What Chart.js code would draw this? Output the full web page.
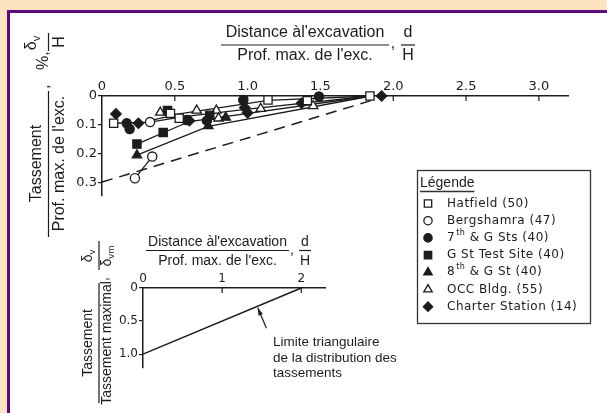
<!DOCTYPE html>
<html>
<head>
<meta charset="utf-8">
<title>Tassements derrière une excavation</title>
<script src="https://cdn.jsdelivr.net/npm/chart.js@4.4.1/dist/chart.umd.min.js"></script>
<style>
  html, body { margin: 0; padding: 0; }
  body {
    width: 607px;
    height: 413px;
    overflow: hidden;
    position: relative;
    background: #fde3bf;
  }
  #frame {
    position: absolute;
    left: 7px;
    top: 10px;
    width: 620px;
    height: 420px;
    background: #ffffff;
    border: 3px solid #5c0b7c;
  }
  .wrap {
    position: absolute;
    left: 0;
    top: 0;
    width: 607px;
    height: 413px;
  }
</style>
</head>
<body>
<div id="frame"></div>
<div class="wrap"><canvas id="chartObserved"></canvas></div>
<div class="wrap"><canvas id="chartEnvelope"></canvas></div>
<script>
// ---- data: [d/H, tassement %] ----
const hatfield = [[0.08, 0.094], [0.47, 0.06], [0.53, 0.077], [1.14, 0.014], [1.41, 0.016], [1.84, 0.0]];
const bergshamra = [[0.226, 0.284], [0.345, 0.209], [0.33, 0.09]];
const seventhG = [[0.17, 0.094], [0.19, 0.114], [0.58, 0.083], [0.72, 0.085], [0.97, 0.014], [1.49, 0.002]];
const gStTestSite = [[0.24, 0.166], [0.42, 0.126], [0.45, 0.05], [0.74, 0.066]];
const eighthG = [[0.24, 0.204], [0.73, 0.103], [0.85, 0.074]];
const occBldg = [[0.4, 0.057], [0.65, 0.05], [0.785, 0.05], [0.8, 0.077], [1.09, 0.044], [1.45, 0.034]];
const charterStation = [[0.096, 0.062], [0.25, 0.094], [0.6, 0.085], [0.98, 0.04], [1.0, 0.058], [1.37, 0.025], [1.92, 0.0]];

// trend lines drawn through the data
const trendBergshamra = [[0.226, 0.284], [0.345, 0.209]];
const trendEighth = [[0.24, 0.204], [0.73, 0.105], [1.85, 0.0]];
const trendGSt = [[0.24, 0.166], [0.6, 0.088], [1.85, 0.0]];
const trendMiddle = [[0.08, 0.094], [0.33, 0.09], [0.55, 0.072], [1.0, 0.045], [1.85, 0.0]];
const trendTop = [[0.33, 0.085], [0.53, 0.062], [1.14, 0.015], [1.85, 0.0]];
const envelopeDashed = [[0, 0.297], [1.88, 0.011]];

const siteLabels = ['Hatfield (50)', 'Bergshamra (47)', '7th & G Sts (40)', 'G St Test Site (40)',
  '8th & G St (40)', 'OCC Bldg. (55)', 'Charter Station (14)'];

const upperXTicks = [0, 0.5, 1.0, 1.5, 2.0, 2.5, 3.0];
const upperYTicks = [0, 0.1, 0.2, 0.3];

// lower chart: normalised settlement
const triangleLimit = [[0, 1.0], [2, 0]];
const arrowFrom = [1.56, 0.61];
const arrowTo = [1.45, 0.3];
const lowerXTicks = [0, 1, 2];
const lowerYTicks = [0, 0.5, 1.0];

const X_TITLE_NUM = 'Distance àl\'excavation';
const X_TITLE_DEN = 'Prof. max. de l\'exc.';
const NOTE_LINES = ['Limite triangulaire', 'de la distribution des', 'tassements'];

const INK = '#1c1c1c';
const SANS = "'Liberation Sans', Arial, sans-serif";
const LETTER = "'DejaVu Sans', sans-serif";

const toXY = (pairs) => pairs.map(([x, y]) => ({ x, y }));

function markerDataset(label, points, style, filled) {
  const radius = { rect: 5.8, circle: 4.6, triangle: 5.4, rectRot: 5.2 }[style];
  return {
    label,
    data: toXY(points),
    pointStyle: style,
    pointRadius: radius,
    pointBorderWidth: 1.3,
    pointBorderColor: INK,
    pointBackgroundColor: filled ? INK : '#ffffff',
    showLine: false,
    clip: false,
    order: 0
  };
}

function trendDataset(points, dashed) {
  return {
    label: '',
    trend: true,
    data: toXY(points),
    showLine: true,
    pointRadius: 0,
    borderColor: INK,
    borderWidth: dashed ? 1.5 : 1.3,
    borderDash: dashed ? [11, 7] : [],
    clip: false,
    order: 1
  };
}

function fmtTick(value) {
  return value === 0 ? '0' : value.toFixed(1);
}

function hline(ctx, x1, x2, y) {
  ctx.beginPath();
  ctx.moveTo(x1, y);
  ctx.lineTo(x2, y);
  ctx.stroke();
}

function vline(ctx, x, y1, y2) {
  ctx.beginPath();
  ctx.moveTo(x, y1);
  ctx.lineTo(x, y2);
  ctx.stroke();
}

// rotated (bottom to top) text
function rtext(ctx, text, x, y, align) {
  ctx.save();
  ctx.translate(x, y);
  ctx.rotate(-Math.PI / 2);
  ctx.textAlign = align || 'center';
  ctx.textBaseline = 'middle';
  ctx.fillText(text, 0, 0);
  ctx.restore();
}

// rotated symbol with subscript, e.g. δv
function rsub(ctx, base, sub, x, y, size) {
  ctx.save();
  ctx.translate(x, y);
  ctx.rotate(-Math.PI / 2);
  ctx.textAlign = 'left';
  ctx.textBaseline = 'middle';
  ctx.font = `${size}px ${SANS}`;
  const wb = ctx.measureText(base).width;
  ctx.font = `${size * 0.7}px ${SANS}`;
  const ws = ctx.measureText(sub).width;
  const start = -(wb + ws) / 2;
  ctx.font = `${size}px ${SANS}`;
  ctx.fillText(base, start, 0);
  ctx.font = `${size * 0.7}px ${SANS}`;
  ctx.fillText(sub, start + wb, size * 0.28);
  ctx.restore();
}

// x ticks pointing into the plot, below the top axis
const inwardTicks = {
  id: 'inwardTicks',
  afterDraw(chart) {
    const { ctx, chartArea } = chart;
    const scale = chart.scales.x;
    ctx.save();
    ctx.strokeStyle = INK;
    ctx.lineWidth = 1.2;
    scale.ticks.forEach((tick) => {
      if (tick.value === 0) return;
      const px = scale.getPixelForValue(tick.value);
      vline(ctx, px, chartArea.top, chartArea.top + 5);
    });
    ctx.restore();
  }
};

const upperDecor = {
  id: 'upperDecor',
  afterDraw(chart) {
    const ctx = chart.ctx;
    ctx.save();
    ctx.fillStyle = INK;
    ctx.strokeStyle = INK;
    ctx.lineWidth = 1.2;

    // x title: fraction , d/H
    ctx.font = `16px ${SANS}`;
    ctx.textAlign = 'center';
    ctx.textBaseline = 'middle';
    ctx.fillText(X_TITLE_NUM, 305, 33);
    ctx.fillText(X_TITLE_DEN, 305, 56);
    hline(ctx, 221, 389, 45);
    ctx.fillText(',', 393, 44);
    ctx.fillText('d', 408, 33);
    ctx.fillText('H', 408, 56);
    hline(ctx, 401, 415, 45);

    // y title, rotated
    rtext(ctx, 'Tassement', 37, 163.5);
    rtext(ctx, X_TITLE_DEN, 60, 163.5);
    vline(ctx, 48.5, 91, 237);
    rtext(ctx, ',', 45, 89, 'left');
    rtext(ctx, '%,', 44, 70, 'left');
    rsub(ctx, 'δ', 'v', 32, 43, 16);
    ctx.font = `16px ${SANS}`;
    rtext(ctx, 'H', 60, 42);
    vline(ctx, 48.5, 33, 51);

    // legend box
    ctx.lineWidth = 1.3;
    ctx.strokeStyle = '#333333';
    ctx.strokeRect(417.5, 170.5, 173, 153);
    ctx.font = `14px ${SANS}`;
    ctx.textAlign = 'left';
    ctx.fillText('Légende', 420, 183);
    hline(ctx, 420, 420 + ctx.measureText('Légende').width, 191.5);

    const entries = chart.data.datasets.filter((ds) => !ds.trend);
    entries.forEach((ds, i) => {
      const y = 203.5 + i * 17.2;
      ctx.fillStyle = ds.pointBackgroundColor;
      ctx.strokeStyle = INK;
      ctx.lineWidth = 1.3;
      Chart.helpers.drawPoint(ctx, {
        pointStyle: ds.pointStyle,
        radius: ds.pointRadius * 0.9,
        borderWidth: 1.3,
        rotation: 0
      }, 428, y);

      ctx.fillStyle = INK;
      ctx.font = `12px ${LETTER}`;
      ctx.letterSpacing = '0.5px';
      const m = ds.label.match(/^(\d)(th)(.*)$/);
      if (m) {
        ctx.fillText(m[1], 447, y);
        let x = 447 + ctx.measureText(m[1]).width + 1;
        ctx.font = `8px ${LETTER}`;
        ctx.fillText(m[2], x, y - 5);
        x += ctx.measureText(m[2]).width;
        ctx.font = `12px ${LETTER}`;
        ctx.fillText(m[3], x, y);
      } else {
        ctx.fillText(ds.label, 447, y);
      }
      ctx.letterSpacing = '0px';
    });
    ctx.restore();
  }
};

const lowerDecor = {
  id: 'lowerDecor',
  afterDraw(chart) {
    const { ctx, scales } = chart;
    ctx.save();
    ctx.fillStyle = INK;
    ctx.strokeStyle = INK;
    ctx.lineWidth = 1.2;

    ctx.font = `14px ${SANS}`;
    ctx.textAlign = 'center';
    ctx.textBaseline = 'middle';
    ctx.fillText(X_TITLE_NUM, 217.5, 242.5);
    ctx.fillText(X_TITLE_DEN, 217.5, 261.5);
    hline(ctx, 146, 289, 250.5);
    ctx.fillText(',', 292, 250);
    ctx.fillText('d', 305, 242.5);
    ctx.fillText('H', 305, 261.5);
    hline(ctx, 299, 311, 250.5);

    rtext(ctx, 'Tassement', 88, 343);
    rtext(ctx, 'Tassement maximal', 107, 343);
    vline(ctx, 99, 283, 403);
    rtext(ctx, ',', 104, 281, 'left');
    rsub(ctx, 'δ', 'v', 88, 256, 14);
    rsub(ctx, 'δ', 'vm', 107, 256, 14);
    vline(ctx, 99, 241, 270);

    // annotation arrow
    const fx = scales.x.getPixelForValue(arrowFrom[0]);
    const fy = scales.y.getPixelForValue(arrowFrom[1]);
    const tx = scales.x.getPixelForValue(arrowTo[0]);
    const ty = scales.y.getPixelForValue(arrowTo[1]);
    ctx.beginPath();
    ctx.moveTo(fx, fy);
    ctx.lineTo(tx, ty);
    ctx.stroke();
    const ang = Math.atan2(ty - fy, tx - fx);
    ctx.beginPath();
    ctx.moveTo(tx, ty);
    ctx.lineTo(tx - 8 * Math.cos(ang - 0.3), ty - 8 * Math.sin(ang - 0.3));
    ctx.lineTo(tx - 8 * Math.cos(ang + 0.3), ty - 8 * Math.sin(ang + 0.3));
    ctx.closePath();
    ctx.fill();

    ctx.font = `13.5px ${SANS}`;
    ctx.textAlign = 'left';
    NOTE_LINES.forEach((line, i) => {
      ctx.fillText(line, 273, 342 + i * 15.8);
    });
    ctx.restore();
  }
};

function axisX(ticksArr, min, max, size, fmt, height) {
  return {
    type: 'linear',
    position: 'top',
    min,
    max,
    afterBuildTicks: (scale) => { scale.ticks = ticksArr.map((value) => ({ value })); },
    afterFit: (scale) => { scale.height = height; },
    grid: { display: false, drawTicks: false },
    border: { display: true, color: INK, width: 1.5 },
    ticks: { padding: 2, color: INK, font: { family: LETTER, size }, callback: fmt, maxRotation: 0 }
  };
}

function axisY(ticksArr, min, max, size, width) {
  return {
    type: 'linear',
    reverse: true,
    min,
    max,
    afterBuildTicks: (scale) => { scale.ticks = ticksArr.map((value) => ({ value })); },
    afterFit: (scale) => { scale.width = width; },
    grid: { display: true, drawOnChartArea: false, drawTicks: true, tickLength: 4, color: INK, lineWidth: 1.2 },
    border: { display: true, color: INK, width: 1.5 },
    ticks: { padding: 1, color: INK, font: { family: LETTER, size }, callback: fmtTick }
  };
}

function init() {
  Chart.defaults.font.family = LETTER;
  Chart.defaults.color = INK;

  const markerStyles = [
    ['rect', false], ['circle', false], ['circle', true], ['rect', true],
    ['triangle', true], ['triangle', false], ['rectRot', true]
  ];
  const siteSeries = [hatfield, bergshamra, seventhG, gStTestSite, eighthG, occBldg, charterStation];

  const datasets = siteSeries.map((points, i) =>
    markerDataset(siteLabels[i], points, markerStyles[i][0], markerStyles[i][1]));
  [trendBergshamra, trendEighth, trendGSt, trendMiddle, trendTop].forEach((t) => {
    datasets.push(trendDataset(t, false));
  });
  datasets.push(trendDataset(envelopeDashed, true));

  new Chart(document.getElementById('chartObserved'), {
    type: 'scatter',
    data: { datasets },
    options: {
      responsive: true,
      maintainAspectRatio: false,
      animation: false,
      events: [],
      layout: { padding: { left: 62, top: 76, right: 39, bottom: 217 } },
      plugins: { legend: { display: false }, tooltip: { enabled: false } },
      scales: {
        x: axisX(upperXTicks, 0, 3.2, 13, fmtTick, 20),
        y: axisY(upperYTicks, 0, 0.345, 13, 40)
      }
    },
    plugins: [inwardTicks, upperDecor]
  });

  new Chart(document.getElementById('chartEnvelope'), {
    type: 'scatter',
    data: {
      datasets: [{
        label: 'Limite triangulaire',
        data: toXY(triangleLimit),
        showLine: true,
        pointRadius: 0,
        borderColor: INK,
        borderWidth: 1.5,
        clip: false
      }]
    },
    options: {
      responsive: true,
      maintainAspectRatio: false,
      animation: false,
      events: [],
      layout: { padding: { left: 113, top: 270, right: 282, bottom: 45 } },
      plugins: { legend: { display: false }, tooltip: { enabled: false } },
      scales: {
        x: axisX(lowerXTicks, 0, 2.3, 12, (v) => String(v), 18),
        y: axisY(lowerYTicks, 0, 1.21, 12, 30)
      }
    },
    plugins: [inwardTicks, lowerDecor]
  });
}

init();
</script>
</body>
</html>
